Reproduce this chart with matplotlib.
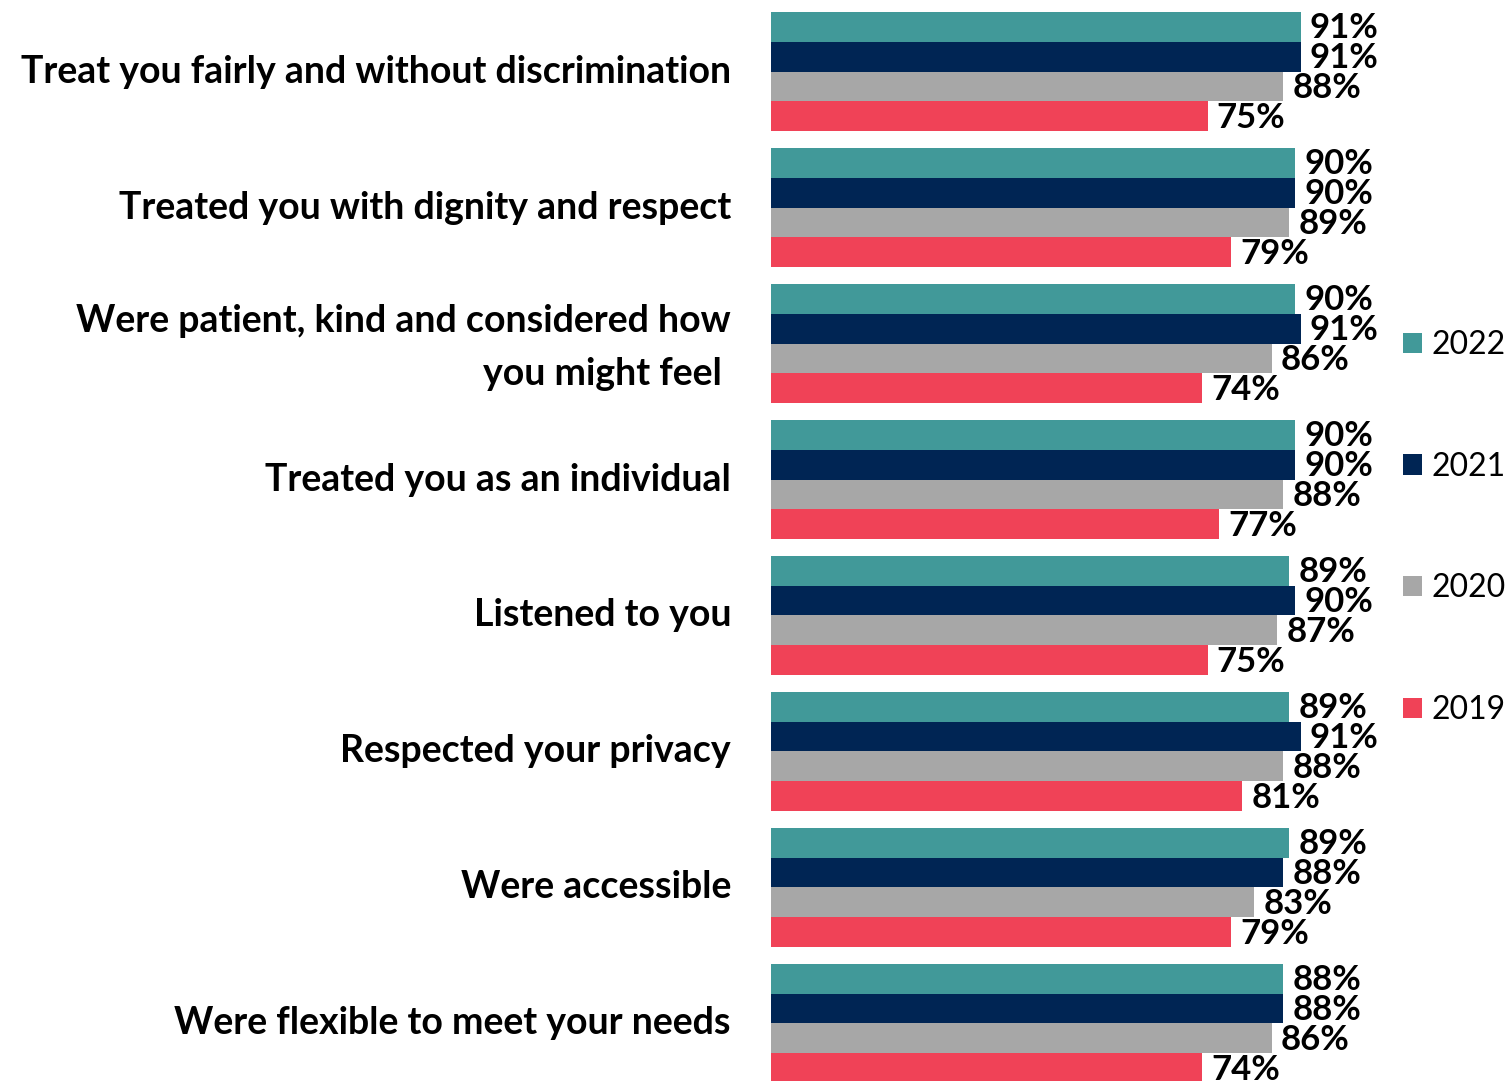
import matplotlib
matplotlib.use("Agg")
import matplotlib.pyplot as plt
import matplotlib.transforms as mtransforms
import numpy as np

categories = [
    "Treat you fairly and without discrimination",
    "Treated you with dignity and respect",
    "Were patient, kind and considered how\nyou might feel ",
    "Treated you as an individual",
    "Listened to you",
    "Respected your privacy",
    "Were accessible",
    "Were flexible to meet your needs",
]
years = ["2022", "2021", "2020", "2019"]
vals_2022 = [91, 90, 90, 90, 89, 89, 89, 88]
vals_2021 = [91, 90, 91, 90, 90, 91, 88, 88]
vals_2020 = [88, 89, 86, 88, 87, 88, 83, 86]
vals_2019 = [75, 79, 74, 77, 75, 81, 79, 74]
colors = ["#419999", "#002554", "#A7A7A7", "#F04257"]

plt.rcParams["font.family"] = ["Lato", "DejaVu Sans"]

fig = plt.figure(figsize=(15.11, 10.81), dpi=100)
ax = fig.add_axes([771 / 1511, 0, 582 / 1511, 1])

series = [vals_2022, vals_2021, vals_2020, vals_2019]
h = 0.219
y = np.arange(len(categories))
for k, (vals, col, yr) in enumerate(zip(series, colors, years)):
    pos = y + (k - 1.5) * h
    bars = ax.barh(pos, vals, height=h, color=col, label=yr)
    for b, v in zip(bars, vals):
        ax.text(v + 1.6, b.get_y() + h / 2 + 0.01, f"{v}%", va="center", ha="left",
                fontsize=25, fontweight="bold", color="black")

ax.set_xlim(0, 100)
ax.set_ylim(7.423, -0.526)
ax.set_yticks([])
ax.set_xticks([])
for s in ax.spines.values():
    s.set_visible(False)

# category labels sit to the left of the bars
trans = mtransforms.blended_transform_factory(ax.transAxes, ax.transData)
for yi, cat in zip(y, categories):
    shift = 0.03 if "\n" in cat else 0.0
    ax.text(-40 / 582, yi + shift, cat, transform=trans, ha="right", va="center",
            fontsize=27, fontweight="bold", linespacing=1.65, clip_on=False)

ax.legend(loc="center left", bbox_to_anchor=(1.058, 0.512), frameon=False,
          fontsize=23, labelspacing=2.87, handlelength=0.6, handleheight=0.6,
          handletextpad=0.3, borderpad=0)

fig.savefig("out.png", dpi=100)
